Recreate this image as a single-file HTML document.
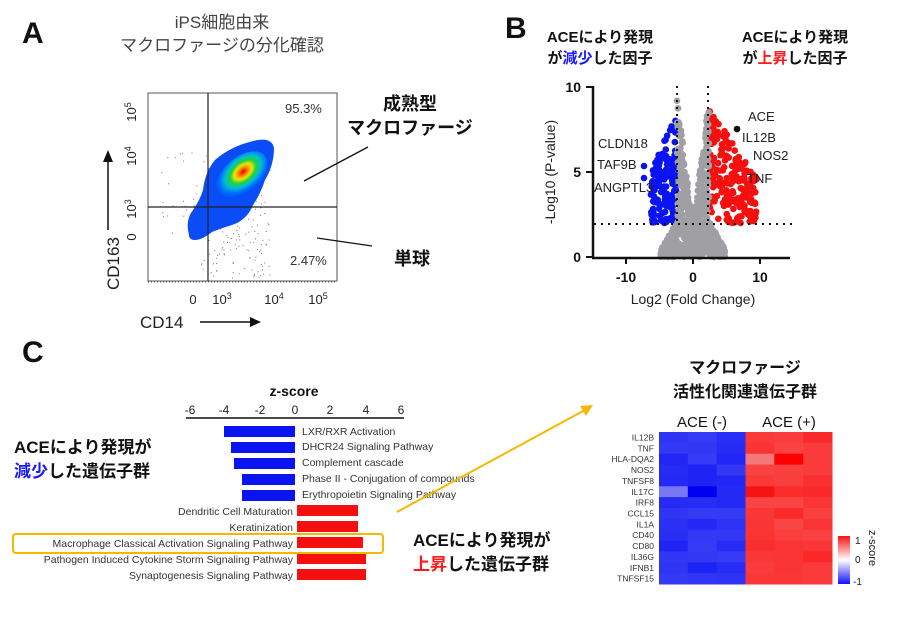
<!DOCTYPE html>
<html><head><meta charset="utf-8">
<style>
html,body{margin:0;padding:0;background:#fff;}
svg{display:block;font-family:"Liberation Sans","Noto Sans CJK JP",sans-serif;}
</style></head><body>
<svg id="s" width="900" height="618" viewBox="0 0 900 618" xmlns="http://www.w3.org/2000/svg">
<defs>
<radialGradient id="fd" cx="0.55" cy="0.45" r="0.6">
<stop offset="0" stop-color="#e00000"/><stop offset="0.15" stop-color="#ff8000"/><stop offset="0.28" stop-color="#e8e800"/><stop offset="0.42" stop-color="#20d040"/><stop offset="0.58" stop-color="#00c0d0"/><stop offset="0.75" stop-color="#0070ff"/><stop offset="1" stop-color="#0040f0"/>
</radialGradient>
<linearGradient id="zs" x1="0" y1="0" x2="0" y2="1"><stop offset="0" stop-color="#ff1010"/><stop offset="0.5" stop-color="#ffffff"/><stop offset="1" stop-color="#1010ff"/></linearGradient>
</defs>
<!-- Panel A -->
<text x="22" y="43" font-size="30" font-weight="bold" fill="#111">A</text>
<text x="222" y="28" font-size="17" fill="#444" text-anchor="middle">iPS細胞由来</text>
<text x="222" y="51" font-size="17" fill="#444" text-anchor="middle">マクロファージの分化確認</text>
<g id="flowdots" fill="#777"></g>
<rect x="148" y="93" width="189" height="188" fill="none" stroke="#555" stroke-width="1"/>
<path d="M189,235 Q185,220 193,210 Q200,200 203,190 Q205,172 215,160 Q232,145 258,140 Q272,138 274,148 Q274,165 265,180 Q260,195 253,205 Q248,218 235,224 Q222,228 212,232 Q202,240 195,240 Q189,240 189,235 Z" fill="#0a4cf5"/>
<ellipse cx="242" cy="175" rx="30" ry="18" transform="rotate(-40 242 175)" fill="url(#fd)"/>
<line x1="208" y1="93" x2="208" y2="281" stroke="#222" stroke-width="1.2"/>
<line x1="148" y1="207" x2="337" y2="207" stroke="#222" stroke-width="1.2"/>
<text x="285" y="113" font-size="13" fill="#333">95.3%</text>
<text x="290" y="265" font-size="13" fill="#333">2.47%</text>
<g font-size="13" fill="#222">
<text x="136" y="112" transform="rotate(-90 136 112)" text-anchor="middle">10<tspan font-size="9" dy="-5">5</tspan></text>
<text x="136" y="156" transform="rotate(-90 136 156)" text-anchor="middle">10<tspan font-size="9" dy="-5">4</tspan></text>
<text x="136" y="209" transform="rotate(-90 136 209)" text-anchor="middle">10<tspan font-size="9" dy="-5">3</tspan></text>
<text x="136" y="237" transform="rotate(-90 136 237)" text-anchor="middle">0</text>
<text x="193" y="304" text-anchor="middle">0</text>
<text x="222" y="304" text-anchor="middle">10<tspan font-size="9" dy="-5">3</tspan></text>
<text x="274" y="304" text-anchor="middle">10<tspan font-size="9" dy="-5">4</tspan></text>
<text x="318" y="304" text-anchor="middle">10<tspan font-size="9" dy="-5">5</tspan></text>
</g>
<line x1="148" y1="282" x2="337" y2="282" stroke="#555" stroke-dasharray="1,2"/>
<text x="119" y="290" font-size="17" fill="#222" transform="rotate(-90 119 290)">CD163</text>
<line x1="108" y1="230" x2="108" y2="160" stroke="#111" stroke-width="1.5"/>
<polygon points="103,162 113,162 108,150" fill="#111"/>
<text x="140" y="328" font-size="17" fill="#222">CD14</text>
<line x1="200" y1="322" x2="252" y2="322" stroke="#111" stroke-width="1.5"/>
<polygon points="250,317 250,327 261,322" fill="#111"/>
<text font-size="18" font-weight="bold" fill="#111" text-anchor="middle"><tspan x="410" y="110">成熟型</tspan><tspan x="410" dy="24">マクロファージ</tspan></text>
<line x1="304" y1="181" x2="368" y2="147" stroke="#111" stroke-width="1.3"/>
<line x1="317" y1="238" x2="372" y2="246" stroke="#111" stroke-width="1.3"/>
<text x="394" y="265" font-size="18" font-weight="bold" fill="#111">単球</text>
<!-- Panel B -->
<text x="505" y="38" font-size="30" font-weight="bold" fill="#111">B</text>
<text x="600" y="42" font-size="15" font-weight="bold" fill="#111" text-anchor="middle">ACEにより発現</text>
<text x="600" y="63" font-size="15" font-weight="bold" fill="#111" text-anchor="middle">が<tspan fill="#1a1aff">減少</tspan>した因子</text>
<text x="795" y="42" font-size="15" font-weight="bold" fill="#111" text-anchor="middle">ACEにより発現</text>
<text x="795" y="63" font-size="15" font-weight="bold" fill="#111" text-anchor="middle">が<tspan fill="#ff1a1a">上昇</tspan>した因子</text>
<g id="volc"></g>
<line x1="593" y1="86" x2="593" y2="258" stroke="#111" stroke-width="2.5"/>
<line x1="592" y1="258" x2="790" y2="258" stroke="#111" stroke-width="2.5"/>
<g stroke="#111" stroke-width="2"><line x1="586" y1="87" x2="593" y2="87"/><line x1="586" y1="172" x2="593" y2="172"/><line x1="586" y1="257" x2="593" y2="257"/>
<line x1="626" y1="258" x2="626" y2="264"/><line x1="693" y1="258" x2="693" y2="264"/><line x1="760" y1="258" x2="760" y2="264"/></g>
<g stroke="#111" stroke-width="2" stroke-dasharray="2,5"><line x1="594" y1="224" x2="795" y2="224"/><line x1="677" y1="86" x2="677" y2="225"/><line x1="708" y1="86" x2="708" y2="225"/></g>
<g font-size="14" font-weight="bold" fill="#111" text-anchor="end"><text x="581" y="92">10</text><text x="581" y="177">5</text><text x="581" y="262">0</text></g>
<g font-size="14" font-weight="bold" fill="#111" text-anchor="middle"><text x="626" y="282">-10</text><text x="693" y="282">0</text><text x="760" y="282">10</text></g>
<text x="693" y="304" font-size="14" fill="#222" text-anchor="middle">Log2 (Fold Change)</text>
<text x="555" y="172" font-size="14" fill="#222" text-anchor="middle" transform="rotate(-90 555 172)">-Log10 (P-value)</text>
<g font-size="13" fill="#222"><text x="598" y="148">CLDN18</text><text x="597" y="169">TAF9B</text><text x="594" y="192">ANGPTL3</text>
<text x="748" y="121">ACE</text><text x="742" y="142">IL12B</text><text x="753" y="160">NOS2</text><text x="747" y="183">TNF</text></g>
<!-- Panel C -->
<text x="22" y="362" font-size="30" font-weight="bold" fill="#111">C</text>
<text x="294" y="396" font-size="14" font-weight="bold" fill="#111" text-anchor="middle">z-score</text>
<g font-size="12" fill="#222" text-anchor="middle"><text x="190" y="414">-6</text><text x="224" y="414">-4</text><text x="260" y="414">-2</text><text x="295" y="414">0</text><text x="330" y="414">2</text><text x="366" y="414">4</text><text x="401" y="414">6</text></g>
<line x1="186" y1="418" x2="404" y2="418" stroke="#111" stroke-width="1.5"/>
<g fill="#0a14f0"><rect x="224" y="426" width="71" height="11"/><rect x="231" y="442" width="64" height="11"/><rect x="234" y="458" width="61" height="11"/><rect x="242" y="474" width="53" height="11"/><rect x="242" y="490" width="53" height="11"/></g>
<g fill="#f51010"><rect x="297" y="505" width="61" height="11"/><rect x="297" y="521" width="61" height="11"/><rect x="297" y="537" width="66" height="11"/><rect x="297" y="553" width="69" height="11"/><rect x="297" y="569" width="69" height="11"/></g>
<g font-size="10.5" fill="#333"><text x="302" y="435">LXR/RXR Activation</text><text x="302" y="450">DHCR24 Signaling Pathway</text><text x="302" y="466">Complement cascade</text><text x="302" y="482">Phase II - Conjugation of compounds</text><text x="302" y="498">Erythropoietin Signaling Pathway</text></g>
<g font-size="10.5" fill="#333" text-anchor="end"><text x="293" y="515">Dendritic Cell Maturation</text><text x="293" y="531">Keratinization</text><text x="293" y="547">Macrophage Classical Activation Signaling Pathway</text><text x="293" y="563">Pathogen Induced Cytokine Storm Signaling Pathway</text><text x="293" y="579">Synaptogenesis Signaling Pathway</text></g>
<rect x="13" y="534" width="370" height="19" rx="3" fill="none" stroke="#f5b800" stroke-width="2"/>
<text x="14" y="453" font-size="17" font-weight="bold" fill="#111">ACEにより発現が</text>
<text x="14" y="477" font-size="17" font-weight="bold" fill="#111"><tspan fill="#1a1aff">減少</tspan>した遺伝子群</text>
<text x="413" y="546" font-size="17" font-weight="bold" fill="#111">ACEにより発現が</text>
<text x="413" y="570" font-size="17" font-weight="bold" fill="#111"><tspan fill="#ff1a1a">上昇</tspan>した遺伝子群</text>
<line x1="397" y1="512" x2="585" y2="410" stroke="#f5b800" stroke-width="2"/>
<polygon points="593,405 580,406 586,416" fill="#f5b800"/>
<text x="745" y="373" font-size="16" font-weight="bold" fill="#111" text-anchor="middle">マクロファージ</text>
<text x="745" y="397" font-size="16" font-weight="bold" fill="#111" text-anchor="middle">活性化関連遺伝子群</text>
<text x="702" y="427" font-size="15" fill="#111" text-anchor="middle">ACE (-)</text>
<text x="789" y="427" font-size="15" fill="#111" text-anchor="middle">ACE (+)</text>
<g id="heat"></g>
<g id="hl" font-size="8.5" fill="#333" text-anchor="end"></g>
<rect x="838" y="536" width="12" height="48" fill="url(#zs)"/>
<g font-size="10" fill="#222"><text x="855" y="544">1</text><text x="855" y="563">0</text><text x="853" y="585">-1</text></g>
<text x="869" y="530" font-size="11" fill="#222" transform="rotate(90 869 530)">z-score</text>
</svg>
<script>
(function(){
var NS="http://www.w3.org/2000/svg";
function el(p,t,a){var e=document.createElementNS(NS,t);for(var k in a)e.setAttribute(k,a[k]);p.appendChild(e);return e;}
var seed=7;function r(){seed=(seed*16807)%2147483647;return seed/2147483647;}
var fd=document.getElementById('flowdots');
for(var i=0;i<180;i++){var x=200+r()*70,y=200+r()*78;if(r()<0.4){x=160+r()*110;y=150+r()*90;}el(fd,'rect',{x:x,y:y,width:1,height:1});}
var v=document.getElementById('volc');
function dot(x,y,c){el(v,'circle',{cx:x,cy:y,r:3.3,fill:c});}
var i,fx,hh,mx;
for(i=0;i<150;i++){fx=-(2.5+r()*3.8);mx=8.5-(Math.abs(fx)-2.5)*0.9;hh=2+r()*(mx-2);dot(693+fx*6.7,257-hh*17,'#0a14f0');}
for(i=0;i<200;i++){fx=2.5+Math.pow(r(),1.3)*7;mx=8.8-(fx-2.5)*0.6;hh=2+r()*(mx-2);dot(693+fx*6.7,257-hh*17,'#f51010');}
for(i=0;i<800;i++){fx=(r()*2-1)*4.8;mx=Math.min(9.3,1.8+Math.abs(fx)*3.2);hh=r()*mx;if(Math.abs(fx)>2.4)hh=r()*2.1*(1-(Math.abs(fx)-2.4)/3);dot(693+fx*6.7,257-hh*17,'#a0a0a4');}
dot(644,166,'#0a14f0');dot(644,178,'#0a14f0');dot(737,129,'#111');
var h=document.getElementById('heat'),hl=document.getElementById('hl');
var names=["IL12B","TNF","HLA-DQA2","NOS2","TNFSF8","IL17C","IRF8","CCL15","IL1A","CD40","CD80","IL36G","IFNB1","TNFSF15"];
var rowH=152/14,colW=173/6;
for(i=0;i<14;i++){for(var j=0;j<6;j++){var c,l;
 if(j<3){l=30+Math.floor(r()*25);c='rgb('+l+','+(l+5)+',245)';}
 else{l=40+Math.floor(r()*30);c='rgb(250,'+l+','+l+')';}
 if(i==2&&j==3)c='rgb(245,120,120)';if(i==2&&j==4)c='rgb(255,0,0)';if(i==5&&j==0)c='rgb(120,120,245)';if(i==5&&j==1)c='rgb(0,0,240)';if(i==5&&j==3)c='rgb(245,20,20)';
 el(h,'rect',{x:659+j*colW,y:432+i*rowH,width:colW+0.5,height:rowH+0.5,fill:c});}
 var t=el(hl,'text',{x:654,y:432+i*rowH+8.5});t.textContent=names[i];}
})();
</script>
</body></html>
